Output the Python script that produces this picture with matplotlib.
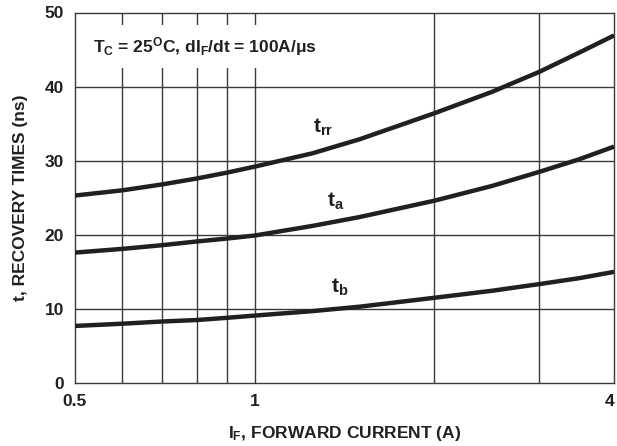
import numpy as np
import matplotlib
matplotlib.use("Agg")
import matplotlib.pyplot as plt
from matplotlib.ticker import FixedLocator, NullLocator, FixedFormatter

# forward current (A)
i_f = [0.5, 0.6, 0.7, 0.8, 0.9, 1.0, 1.25, 1.5, 2.0, 2.5, 3.0, 3.5, 4.0]
# recovery times (ns)
t_rr = [25.3, 26.0, 26.8, 27.6, 28.4, 29.2, 31.0, 32.9, 36.4, 39.3, 42.0, 44.6, 46.9]
t_a = [17.6, 18.1, 18.6, 19.1, 19.5, 19.9, 21.2, 22.4, 24.6, 26.6, 28.5, 30.2, 31.9]
t_b = [7.7, 8.0, 8.3, 8.5, 8.8, 9.1, 9.7, 10.3, 11.5, 12.45, 13.35, 14.15, 15.0]

x_grid = [0.6, 0.7, 0.8, 0.9, 1, 2, 3]
x_ticks = [0.5, 1, 4]
x_ticklabels = ["0.5", "1", "4"]
y_ticks = [0, 10, 20, 30, 40, 50]

plt.rcParams['font.family'] = ['Liberation Sans', 'DejaVu Sans']
plt.rcParams['font.weight'] = 'bold'
plt.rcParams['mathtext.fontset'] = 'custom'
plt.rcParams['mathtext.rm'] = 'Liberation Sans:bold'
plt.rcParams['mathtext.it'] = 'Liberation Sans:bold'
plt.rcParams['mathtext.bf'] = 'Liberation Sans:bold'
plt.rcParams['mathtext.default'] = 'bf'

fig = plt.figure(figsize=(6.17, 4.46), dpi=100)
ax = fig.add_axes([75 / 617, 63 / 446, 539 / 617, 370.5 / 446])
ax.set_xscale('log')
ax.set_xlim(0.5, 4)
ax.set_ylim(0, 50)

line_c = '#231f20'
grid_c = '#3a3a3a'
for xv in x_grid:
    ax.axvline(xv, color=grid_c, lw=1.0, zorder=1)
for yv in y_ticks[1:-1]:
    ax.axhline(yv, color=grid_c, lw=1.0, zorder=1)

for sp in ax.spines.values():
    sp.set_color(grid_c)
    sp.set_linewidth(1.0)

for series in (t_rr, t_a, t_b):
    ax.plot(i_f, series, color=line_c, lw=3.2, zorder=3,
            solid_capstyle='butt', solid_joinstyle='round')

ax.xaxis.set_major_locator(FixedLocator(x_ticks))
ax.xaxis.set_major_formatter(FixedFormatter(x_ticklabels))
ax.xaxis.set_minor_locator(NullLocator())
ax.set_yticks(y_ticks)
ax.tick_params(axis='both', length=0, labelsize=12.5, colors='#231f20')
ax.tick_params(axis='x', pad=8)
ax.tick_params(axis='y', pad=8)
for lab in ax.get_xticklabels() + ax.get_yticklabels():
    lab.set_fontweight('bold')
ax.get_xticklabels()[-1].set_horizontalalignment('right')

ax.text(0.536, 45.4, r"T$_\mathregular{C}$ = 25$^\mathregular{O}$C, dI$_\mathregular{F}$/dt = 100A/$\mathregular{\mu}$s",
        fontsize=12.5, fontweight='bold', color=line_c, va='center', ha='left', zorder=4,
        bbox=dict(facecolor='white', edgecolor='none', pad=7))

ax.text(1.25, 33.0, r"t$_\mathregular{rr}$", fontsize=15, fontweight='bold', color=line_c,
        va='bottom', zorder=4)
ax.text(1.32, 23.1, r"t$_\mathregular{a}$", fontsize=15, fontweight='bold', color=line_c,
        va='bottom', zorder=4)
ax.text(1.345, 11.5, r"t$_\mathregular{b}$", fontsize=15, fontweight='bold', color=line_c,
        va='bottom', zorder=4)

ax.set_xlabel(r"I$_\mathregular{F}$, FORWARD CURRENT (A)", fontsize=12.5, fontweight='bold',
              color=line_c, labelpad=11)
ax.set_ylabel("t, RECOVERY TIMES (ns)", fontsize=12.5, fontweight='bold', color=line_c, labelpad=12)

fig.savefig("out.png", dpi=100)
